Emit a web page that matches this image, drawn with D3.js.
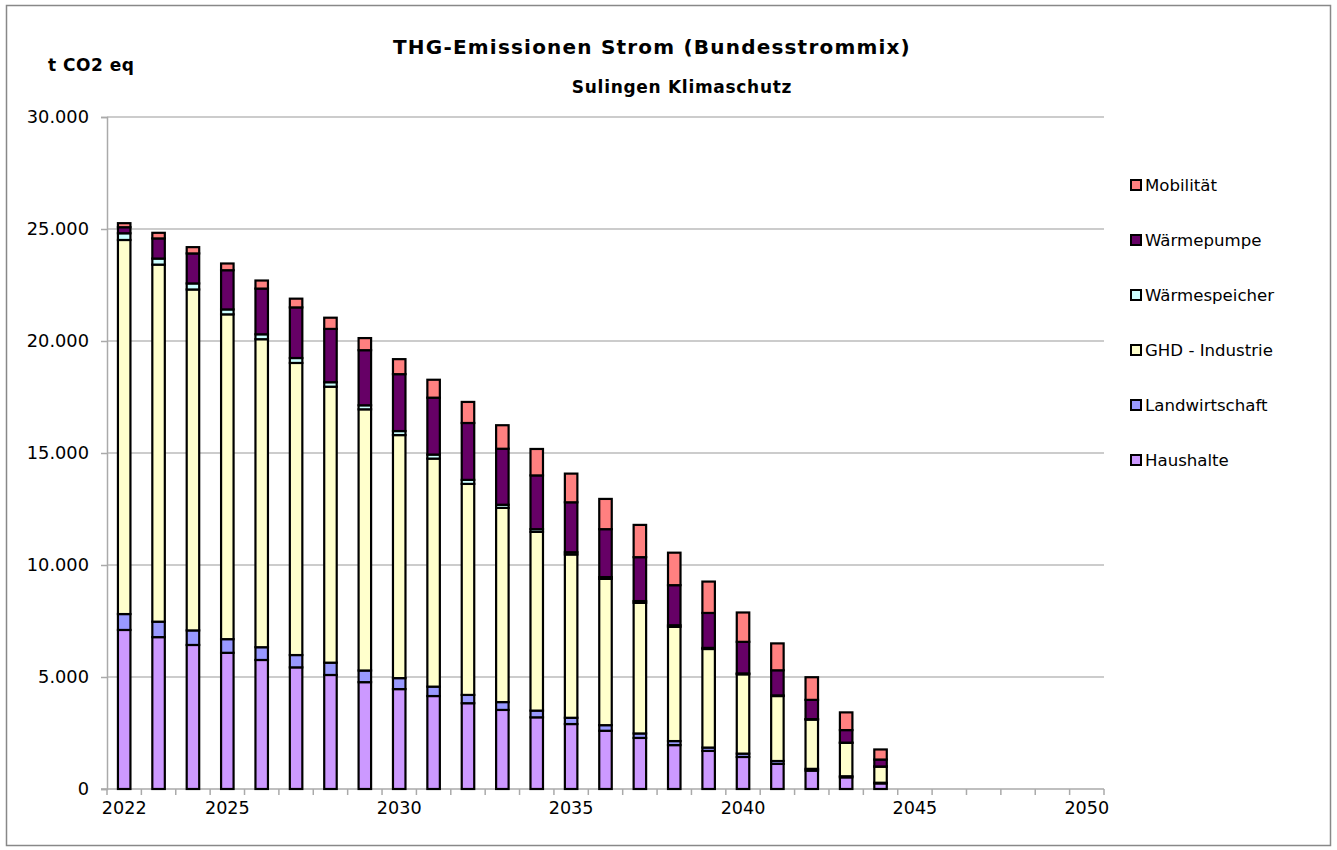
<!DOCTYPE html>
<html>
<head>
<meta charset="utf-8">
<script src="https://cdn.jsdelivr.net/npm/d3@7"></script>
<style>
  html, body { margin: 0; padding: 0; background: #fff; }
  svg { display: block; }
  text { font-family: "DejaVu Sans", Verdana, sans-serif; fill: #000; }
</style>
</head>
<body>
<svg id="chart" width="1337" height="850"></svg>
<script>
const years = [2022,2023,2024,2025,2026,2027,2028,2029,2030,2031,2032,2033,2034,2035,2036,2037,2038,2039,2040,2041,2042,2043,2044,2045,2046,2047,2048,2049,2050];
const xTickLabels = [2022,2025,2030,2035,2040,2045,2050];
const yTicks = [0,5000,10000,15000,20000,25000,30000];

const haushalte      = [7100,6780,6430,6080,5760,5430,5090,4770,4460,4150,3830,3530,3200,2900,2600,2280,1960,1700,1430,1120,820,520,250,0,0,0,0,0,0];
const landwirtschaft = [710,690,650,610,570,550,550,520,490,420,370,350,300,280,250,200,180,150,150,130,80,50,30,0,0,0,0,0,0];
const ghdIndustrie   = [16700,15940,15220,14500,13750,13040,12320,11660,10850,10180,9420,8670,7980,7290,6530,5830,5100,4400,3540,2900,2200,1490,720,0,0,0,0,0,0];
const waermespeicher = [300,270,270,220,220,220,200,180,180,180,180,140,120,100,80,80,70,50,40,30,20,10,5,0,0,0,0,0,0];
const waermepumpe    = [270,900,1340,1750,2040,2260,2380,2460,2540,2540,2540,2500,2400,2230,2140,1960,1790,1560,1410,1120,860,560,310,0,0,0,0,0,0];
const mobilitaet     = [180,250,280,300,360,390,500,540,670,800,940,1050,1180,1280,1350,1440,1450,1400,1310,1200,1010,790,450,0,0,0,0,0,0];

const seriesNames  = ["Haushalte","Landwirtschaft","GHD - Industrie","Wärmespeicher","Wärmepumpe","Mobilität"];
const seriesValues = [haushalte, landwirtschaft, ghdIndustrie, waermespeicher, waermepumpe, mobilitaet];
const seriesColors = ["#CC99FF","#9999FF","#FFFFCC","#CCFFFF","#660066","#FF8080"];

const table = years.map((yr, i) => {
  const row = {year: yr};
  seriesNames.forEach((n, k) => row[n] = seriesValues[k][i]);
  return row;
});

const svg = d3.select("#chart");
const pLeft = 107, pRight = 1104, pTop = 117, pBottom = 789;

// outer frame
svg.append("rect").attr("x", 6.5).attr("y", 5.5).attr("width", 1324).attr("height", 840)
  .attr("fill", "none").attr("stroke", "#888").attr("stroke-width", 1.5);

const x = d3.scaleBand().domain(years).range([pLeft, pRight]).paddingInner(0).paddingOuter(0);
const y = d3.scaleLinear().domain([0, 30000]).range([pBottom, pTop]);

const de = d3.formatLocale({decimal: ",", thousands: ".", grouping: [3], currency: ["", " €"]});
const fmt = de.format(",");

// gridlines
svg.append("g").selectAll("line").data(yTicks.filter(d => d > 0)).join("line")
  .attr("x1", pLeft).attr("x2", pRight)
  .attr("y1", d => y(d)).attr("y2", d => y(d))
  .attr("stroke", "#BBBBBB").attr("stroke-width", 1.5);

// y axis
const yAxis = d3.axisLeft(y).tickValues(yTicks).tickFormat(fmt).tickSize(6).tickPadding(12);
const gy = svg.append("g").attr("transform", `translate(${pLeft},0)`).call(yAxis);
gy.select(".domain").attr("stroke", "#AAAAAA").attr("stroke-width", 1.5);
gy.selectAll(".tick line").attr("stroke", "#AAAAAA").attr("stroke-width", 1.5);
gy.selectAll(".tick text").attr("font-size", "17.8px").style("font-family", "DejaVu Sans, Verdana, sans-serif").attr("fill", "#000");

// x axis
const gx = svg.append("g").attr("transform", `translate(0,${pBottom})`);
gx.append("line").attr("x1", pLeft - 6).attr("x2", pRight).attr("y1", 0).attr("y2", 0)
  .attr("stroke", "#AAAAAA").attr("stroke-width", 1.5);
const boundaries = years.map(d => x(d)).concat([x(years[years.length - 1]) + x.bandwidth()]);
gx.selectAll("line.bt").data(boundaries).join("line").attr("class", "bt")
  .attr("x1", d => d).attr("x2", d => d).attr("y1", 0).attr("y2", 6)
  .attr("stroke", "#AAAAAA").attr("stroke-width", 1.5);
const xAxis = d3.axisBottom(x).tickValues(xTickLabels).tickSize(0).tickPadding(13);
const gxa = svg.append("g").attr("transform", `translate(0,${pBottom})`).call(xAxis);
gxa.select(".domain").remove();
gxa.selectAll(".tick text").attr("font-size", "17.6px").style("font-family", "DejaVu Sans, Verdana, sans-serif").attr("fill", "#000");

// bars
const stack = d3.stack().keys(seriesNames);
const stacked = stack(table);
const barW = 12.5;
const layers = svg.append("g").selectAll("g").data(stacked).join("g")
  .attr("fill", (d, i) => seriesColors[i]);
layers.selectAll("rect").data(d => d.filter(p => p[1] - p[0] > 0)).join("rect")
  .attr("x", d => x(d.data.year) + x.bandwidth() / 2 - barW / 2)
  .attr("width", barW)
  .attr("y", d => y(d[1]))
  .attr("height", d => y(d[0]) - y(d[1]))
  .attr("stroke", "#000").attr("stroke-width", 2.2);

// titles
svg.append("text").attr("x", 652).attr("y", 54).attr("text-anchor", "middle")
  .attr("font-size", "20px").attr("font-weight", "bold").attr("letter-spacing", "1.2px")
  .text("THG-Emissionen Strom (Bundesstrommix)");
svg.append("text").attr("x", 682).attr("y", 93).attr("text-anchor", "middle")
  .attr("font-size", "17px").attr("font-weight", "bold").attr("letter-spacing", "0.7px")
  .text("Sulingen Klimaschutz");
svg.append("text").attr("x", 48).attr("y", 71)
  .attr("font-size", "17px").attr("font-weight", "bold").attr("letter-spacing", "0.5px")
  .text("t CO2 eq");

// legend
const legendOrder = seriesNames.slice().reverse();
const lg = svg.append("g").selectAll("g").data(legendOrder).join("g")
  .attr("transform", (d, i) => `translate(1131,${185 + i * 55})`);
lg.append("rect").attr("x", 0).attr("y", -5).attr("width", 10).attr("height", 10)
  .attr("fill", d => seriesColors[seriesNames.indexOf(d)])
  .attr("stroke", "#000").attr("stroke-width", 2);
lg.append("text").attr("x", 14).attr("y", 0).attr("dy", "0.35em")
  .attr("font-size", "16.6px").text(d => d);
</script>
</body>
</html>
